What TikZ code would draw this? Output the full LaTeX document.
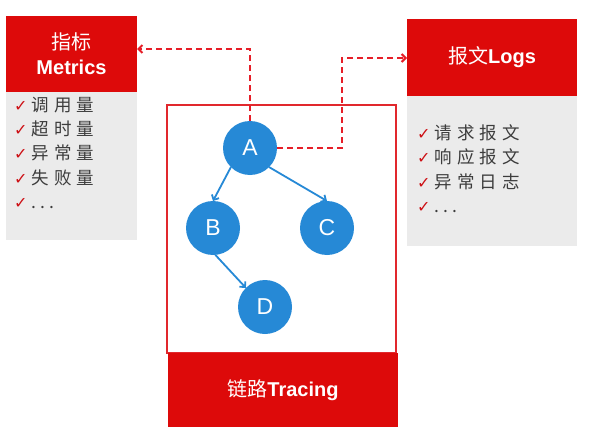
\documentclass[tikz,border=0pt]{standalone}
\usepackage{fontspec}
\setmainfont{Liberation Sans}
\newfontfamily\cjk{Noto Sans CJK SC}
\newfontfamily\symf{DejaVu Sans}
\usetikzlibrary{arrows.meta}
\definecolor{hdrred}{RGB}{221,10,10}
\definecolor{bodygray}{RGB}{235,235,235}
\definecolor{framered}{RGB}{225,40,45}
\definecolor{bblue}{RGB}{38,137,214}
\definecolor{dred}{RGB}{230,30,40}
\definecolor{txtgray}{RGB}{60,60,60}
\definecolor{chkred}{RGB}{205,15,20}
\newcommand{\chk}{{\symf\fontsize{16}{16}\selectfont\textcolor{chkred}{✓}}\hspace{4pt}}
\newcommand{\gp}{\hspace{5pt}}
\newcommand{\dts}{.\hspace{4pt}.\hspace{4pt}.}
\tikzset{
  hdr/.style={fill=hdrred, text=white, inner sep=0pt, outer sep=0pt, align=center},
  body/.style={fill=bodygray, inner sep=0pt, outer sep=0pt},
  bub/.style={circle, fill=bblue, minimum size=54pt, inner sep=0pt, outer sep=0pt, text=white, font=\fontsize{23}{23}\selectfont},
  itm/.style={anchor=base west, inner sep=0pt, text=txtgray, font=\cjk\fontsize{17.5}{17.5}\selectfont},
  dashln/.style={draw=dred, line width=2pt, dash pattern=on 6pt off 4pt, -{Straight Barb[length=4pt,width=8pt]}},
  blink/.style={draw=bblue, line width=1.8pt, -{Straight Barb[length=4pt,width=8pt]}},
}
\begin{document}
\begin{tikzpicture}[x=1pt,y=-1pt]
\useasboundingbox[fill=white] (0,0) rectangle (589,436);
% Metrics
\node[body, minimum width=131pt, minimum height=149pt] (mb) at (71.5,165.5) {};
\node[hdr, minimum width=131pt, minimum height=76pt, font=\fontsize{20}{27}\selectfont] (mh) at (71.5,54) {{\cjk 指标}\\[-2pt]\bfseries Metrics};
\node[itm] (m1) at (14,111) {\chk 调\gp 用\gp 量};
\node[itm] (m2) at (14,135) {\chk 超\gp 时\gp 量};
\node[itm] (m3) at (14,159) {\chk 异\gp 常\gp 量};
\node[itm] (m4) at (14,184) {\chk 失\gp 败\gp 量};
\node[itm] (m5) at (14,208) {\chk \dts};
% Logs
\node[body, minimum width=170pt, minimum height=151pt] (lb) at (492,170.5) {};
\node[hdr, minimum width=170pt, minimum height=76pt, font=\fontsize{20}{20}\selectfont] (lh) at (492,57.5) {{\cjk 报文}\bfseries Logs};
\node[itm] (l1) at (417,139) {\chk 请\gp 求\gp 报\gp 文};
\node[itm] (l2) at (417,163) {\chk 响\gp 应\gp 报\gp 文};
\node[itm] (l3) at (417,188) {\chk 异\gp 常\gp 日\gp 志};
\node[itm] (l4) at (417,212) {\chk \dts};
% Tracing
\node[draw=framered, line width=1.8pt, minimum width=229pt, minimum height=248pt, inner sep=0pt] (tf) at (281.5,229) {};
\node[hdr, minimum width=230pt, minimum height=74pt, font=\fontsize{20}{20}\selectfont] (th) at (283,390) {{\cjk 链路}\bfseries Tracing};
% graph
\node[bub] (A) at (250,148) {A};
\node[bub] (B) at (213,228) {B};
\node[bub] (C) at (327,228) {C};
\node[bub] (D) at (265,307) {D};
\draw[blink] (A.225) -- (B.north);
\draw[blink] (A.-45) -- (C.north);
\draw[blink] (B.-85) -- (D.135);
% dashed links
\coordinate (k1) at (250,49);
\coordinate (k2) at (342,58);
\draw[dashln] (A.north) -- (k1) -- (k1 -| mh.east);
\draw[dashln] (A.east) -| (k2) -- (k2 -| lh.west);
\end{tikzpicture}
\end{document}
